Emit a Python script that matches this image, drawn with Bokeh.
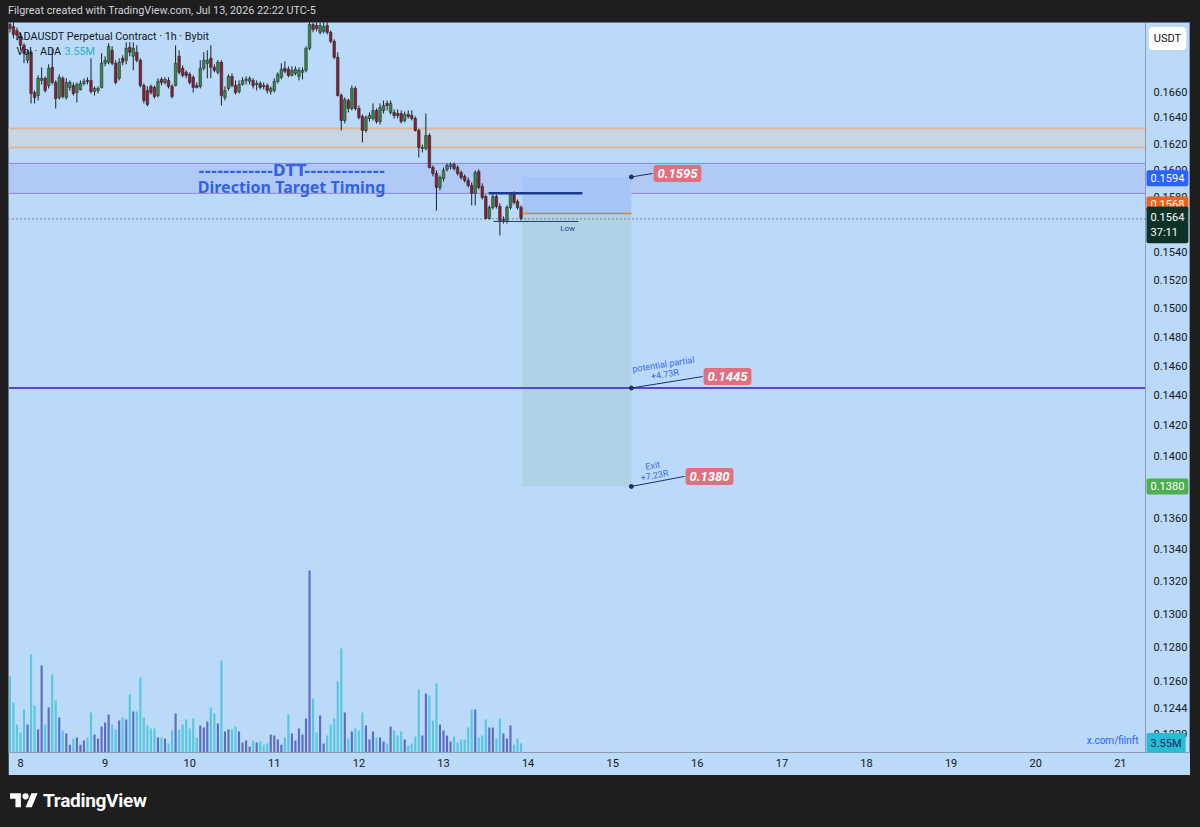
from bokeh.plotting import figure
from bokeh.models import (Range1d, LinearScale, FixedTicker, PrintfTickFormatter, Label, Div,
                          BoxAnnotation, Span, ColumnDataSource)
from bokeh.layouts import column
from bokeh.embed import file_html
from bokeh.resources import INLINE

# ---------------- data ----------------
# hours since Jul 8 00:00 (1h candles, ADAUSDT Bybit)
hours = list(range(-3, 143))

opens = [0.17129, 0.17113, 0.17081, 0.17034, 0.16963, 0.16845, 0.16908, 0.16592, 0.16569, 0.16687,
         0.16703, 0.16647, 0.16789, 0.16671, 0.16554, 0.16703, 0.16554, 0.16632, 0.16647, 0.16592,
         0.16616, 0.16663, 0.16687, 0.16687, 0.16600, 0.16608, 0.16632, 0.16821, 0.16829, 0.16924,
         0.16821, 0.16703, 0.16860, 0.16845, 0.16947, 0.16876, 0.16908, 0.16845, 0.16647, 0.16608,
         0.16640, 0.16632, 0.16569, 0.16695, 0.16671, 0.16687, 0.16640, 0.16647, 0.16876, 0.16782,
         0.16750, 0.16734, 0.16711, 0.16647, 0.16640, 0.16782, 0.16821, 0.16860, 0.16789, 0.16750,
         0.16829, 0.16554, 0.16624, 0.16718, 0.16647, 0.16600, 0.16655, 0.16687, 0.16679, 0.16687,
         0.16655, 0.16663, 0.16647, 0.16647, 0.16600, 0.16608, 0.16679, 0.16711, 0.16782, 0.16774,
         0.16726, 0.16742, 0.16718, 0.16750, 0.16766, 0.16939, 0.17129, 0.17121, 0.17066, 0.17074,
         0.17121, 0.17066, 0.16995, 0.16868, 0.16569, 0.16377, 0.16531, 0.16469, 0.16624, 0.16469,
         0.16408, 0.16300, 0.16392, 0.16392, 0.16454, 0.16369, 0.16454, 0.16508, 0.16439, 0.16439,
         0.16431, 0.16431, 0.16377, 0.16423, 0.16415, 0.16392, 0.16300, 0.16164, 0.16164, 0.16262,
         0.16021, 0.15976, 0.15872, 0.15939, 0.16006, 0.16028, 0.16043, 0.16021, 0.15983, 0.15954,
         0.15924, 0.15887, 0.15828, 0.15991, 0.15879, 0.15805, 0.15643, 0.15724, 0.15805, 0.15731,
         0.15628, 0.15621, 0.15724, 0.15820, 0.15768, 0.15724]

highs = [0.17170, 0.17160, 0.17105, 0.17058, 0.16979, 0.16924, 0.16924, 0.16608, 0.16726, 0.16789,
         0.16718, 0.16813, 0.16939, 0.16687, 0.16734, 0.16718, 0.16703, 0.16687, 0.16671, 0.16671,
         0.16687, 0.16703, 0.16711, 0.16860, 0.16640, 0.16640, 0.16900, 0.16876, 0.16979, 0.16955,
         0.16845, 0.16860, 0.16884, 0.16987, 0.16987, 0.16987, 0.16963, 0.16860, 0.16663, 0.16640,
         0.16655, 0.16647, 0.16703, 0.16711, 0.16711, 0.16711, 0.16655, 0.16963, 0.16924, 0.16805,
         0.16766, 0.16750, 0.16726, 0.16671, 0.16845, 0.16908, 0.16924, 0.16963, 0.16813, 0.16845,
         0.16845, 0.16640, 0.16734, 0.16742, 0.16687, 0.16687, 0.16711, 0.16718, 0.16718, 0.16703,
         0.16687, 0.16679, 0.16671, 0.16663, 0.16640, 0.16703, 0.16750, 0.16821, 0.16837, 0.16797,
         0.16797, 0.16797, 0.16789, 0.16789, 0.16955, 0.17180, 0.17210, 0.17190, 0.17170, 0.17200,
         0.17160, 0.17081, 0.17010, 0.16908, 0.16585, 0.16554, 0.16546, 0.16647, 0.16640, 0.16492,
         0.16423, 0.16415, 0.16439, 0.16508, 0.16469, 0.16508, 0.16531, 0.16531, 0.16531, 0.16462,
         0.16462, 0.16454, 0.16446, 0.16454, 0.16454, 0.16408, 0.16315, 0.16194, 0.16431, 0.16277,
         0.16036, 0.15998, 0.15961, 0.16021, 0.16051, 0.16058, 0.16058, 0.16036, 0.15998, 0.15968,
         0.15946, 0.15909, 0.15998, 0.16006, 0.15902, 0.15820, 0.15739, 0.15820, 0.15820, 0.15754,
         0.15658, 0.15739, 0.15835, 0.15842, 0.15783, 0.15739]

lows = [0.17066, 0.17018, 0.17003, 0.16924, 0.16821, 0.16821, 0.16508, 0.16508, 0.16531, 0.16655,
        0.16592, 0.16624, 0.16655, 0.16469, 0.16538, 0.16546, 0.16538, 0.16608, 0.16569, 0.16515,
        0.16608, 0.16647, 0.16655, 0.16585, 0.16569, 0.16585, 0.16624, 0.16797, 0.16813, 0.16805,
        0.16655, 0.16687, 0.16805, 0.16813, 0.16876, 0.16766, 0.16829, 0.16632, 0.16508, 0.16485,
        0.16577, 0.16546, 0.16554, 0.16647, 0.16655, 0.16624, 0.16546, 0.16640, 0.16734, 0.16711,
        0.16703, 0.16655, 0.16592, 0.16624, 0.16624, 0.16766, 0.16703, 0.16703, 0.16750, 0.16734,
        0.16492, 0.16531, 0.16608, 0.16632, 0.16577, 0.16585, 0.16647, 0.16655, 0.16655, 0.16624,
        0.16608, 0.16616, 0.16616, 0.16585, 0.16577, 0.16592, 0.16663, 0.16695, 0.16742, 0.16711,
        0.16718, 0.16726, 0.16687, 0.16695, 0.16750, 0.16924, 0.17066, 0.17074, 0.17050, 0.17058,
        0.17050, 0.16979, 0.16853, 0.16562, 0.16300, 0.16354, 0.16439, 0.16454, 0.16454, 0.16385,
        0.16209, 0.16285, 0.16369, 0.16377, 0.16354, 0.16346, 0.16431, 0.16454, 0.16423, 0.16392,
        0.16392, 0.16354, 0.16362, 0.16392, 0.16377, 0.16292, 0.16096, 0.16134, 0.16149, 0.16013,
        0.15954, 0.15701, 0.15850, 0.15916, 0.15991, 0.16006, 0.15998, 0.15961, 0.15931, 0.15909,
        0.15872, 0.15739, 0.15739, 0.15857, 0.15783, 0.15636, 0.15636, 0.15709, 0.15716, 0.15519,
        0.15606, 0.15606, 0.15709, 0.15746, 0.15709, 0.15628]

closes = [0.17097, 0.17050, 0.17042, 0.16963, 0.16900, 0.16908, 0.16585, 0.16554, 0.16703, 0.16703,
          0.16608, 0.16782, 0.16671, 0.16546, 0.16711, 0.16562, 0.16671, 0.16671, 0.16585, 0.16655,
          0.16663, 0.16679, 0.16679, 0.16600, 0.16624, 0.16624, 0.16821, 0.16845, 0.16955, 0.16821,
          0.16671, 0.16829, 0.16829, 0.16939, 0.16908, 0.16939, 0.16845, 0.16647, 0.16531, 0.16500,
          0.16592, 0.16562, 0.16679, 0.16671, 0.16695, 0.16640, 0.16562, 0.16821, 0.16750, 0.16726,
          0.16726, 0.16671, 0.16632, 0.16632, 0.16782, 0.16845, 0.16845, 0.16789, 0.16766, 0.16829,
          0.16569, 0.16608, 0.16718, 0.16647, 0.16592, 0.16655, 0.16687, 0.16695, 0.16703, 0.16647,
          0.16663, 0.16632, 0.16640, 0.16608, 0.16624, 0.16679, 0.16734, 0.16774, 0.16758, 0.16726,
          0.16766, 0.16774, 0.16766, 0.16766, 0.16939, 0.17129, 0.17089, 0.17097, 0.17121, 0.17113,
          0.17066, 0.16995, 0.16868, 0.16569, 0.16377, 0.16538, 0.16469, 0.16624, 0.16469, 0.16400,
          0.16300, 0.16400, 0.16415, 0.16454, 0.16369, 0.16477, 0.16492, 0.16492, 0.16508, 0.16415,
          0.16415, 0.16369, 0.16423, 0.16408, 0.16392, 0.16300, 0.16172, 0.16172, 0.16262, 0.16021,
          0.15976, 0.15872, 0.15946, 0.15998, 0.16036, 0.16043, 0.16013, 0.15976, 0.15946, 0.15924,
          0.15887, 0.15828, 0.15983, 0.15872, 0.15798, 0.15643, 0.15724, 0.15805, 0.15731, 0.15628,
          0.15636, 0.15724, 0.15820, 0.15761, 0.15724, 0.15643]

# volume, millions ADA
volumes = [29.9, 19.7, 11.0, 7.9, 16.9, 11.0, 38.6, 18.5, 9.1, 34.3,
           11.0, 17.7, 30.7, 20.5, 13.8, 8.7, 7.5, 3.1, 5.5, 5.9,
           3.1, 4.7, 5.9, 15.7, 7.1, 5.5, 10.2, 11.8, 15.0, 11.0,
           9.1, 12.6, 13.8, 13.0, 22.8, 16.1, 16.1, 29.5, 13.8, 10.6,
           9.4, 9.4, 5.9, 5.9, 5.5, 3.5, 8.7, 15.4, 9.1, 11.0,
           13.0, 9.4, 13.4, 5.9, 10.6, 9.8, 12.2, 17.7, 15.4, 11.4,
           36.2, 8.3, 9.1, 9.1, 10.2, 8.3, 3.9, 4.7, 2.4, 4.7,
           3.9, 4.3, 3.1, 3.5, 7.1, 6.7, 5.1, 3.1, 5.9, 15.0,
           7.5, 4.7, 9.4, 7.1, 13.4, 71.7, 21.3, 7.9, 14.6, 3.5,
           6.7, 11.0, 13.4, 28.0, 40.9, 15.7, 5.5, 8.3, 9.4, 8.7,
           15.7, 10.6, 5.1, 8.3, 5.9, 5.9, 4.3, 3.5, 10.2, 8.7,
           6.7, 8.3, 5.1, 2.8, 3.5, 6.3, 24.8, 6.7, 23.2, 22.4,
           12.6, 27.2, 11.0, 8.7, 6.7, 4.3, 6.3, 3.9, 5.1, 5.1,
           9.8, 16.9, 16.9, 5.9, 6.7, 13.0, 9.8, 9.8, 5.5, 13.4,
           7.5, 5.5, 10.6, 3.1, 5.5, 3.55]

day_ticks = [0, 24, 48, 72, 96, 120, 144, 168, 192, 216, 240, 264, 288, 312]
day_labels = ["8", "9", "10", "11", "12", "13", "14", "15", "16", "17", "18", "19", "20", "21"]
price_ticks = [0.1229, 0.1244, 0.1260, 0.1280, 0.1300, 0.1320, 0.1340, 0.1360, 0.1380, 0.1400,
               0.1420, 0.1440, 0.1460, 0.1480, 0.1500, 0.1520, 0.1540, 0.1560, 0.1580, 0.1600,
               0.1620, 0.1640, 0.1660]

# drawings (time in hours, price)
zone_grey = [0.16172, 0.16315]          # grey zone with tan borders
zone_dtt = [0.15828, 0.16051]           # DTT band
last_price = 0.1564
pos_time = [142.4, 173.3]               # short position tool
pos_entry, pos_stop = 0.1568, 0.1595
tp_partial, tp_exit = 0.1445, 0.1380
level_line = [132.8, 159.4, 0.15828]    # navy level
low_line = [134.2, 158.3, 0.15621]      # "Low"
low_text = [155.2, 0.15570]
tag_names = ["0.1595", "0.1445", "0.1380"]
tag_prices = [pos_stop, tp_partial, tp_exit]
tag_anchor_t = [179.3, 193.5, 188.4]
tag_anchor_p = [0.15976, 0.14528, 0.13865]
note_texts = ["potential partial\n+4.73R", "Exit\n+7.23R"]
note_t = [182.6, 179.6]
note_p = [0.14576, 0.13903]
note_angle = [0.155, 0.187]
dtt_t = 76.9
dtt_p = [0.15991, 0.15872]

# ---------------- style / view ----------------
BG = "#bbd9f9"
DARK = "#1e1e1e"
UP, DOWN, WICK = "#3a8649", "#872031", "#1d2127"
VUP, VDOWN = "#5b6cc2", "#55c8e0"
FONT = "Roboto"
T0, SCALE_EDGE, T1 = -3.40, 319.15, 331.91     # view: left edge, price-scale border, right edge

p = figure(frame_width=1182, frame_height=730, x_range=Range1d(T0, T1), y_range=Range1d(0.12185, 0.17145),
           y_axis_type="log", y_axis_location="right", output_backend="svg", toolbar_location=None,
           min_border_left=0, min_border_right=0, min_border_top=0, min_border_bottom=23,
           background_fill_color=BG, border_fill_color=BG, outline_line_color="#6f7886",
           outline_line_alpha=0.7)
p.margin = (0, 0, 0, 8)
p.grid.visible = False
p.extra_y_ranges = {"vol": Range1d(0, 287.4)}
p.extra_y_scales = {"vol": LinearScale()}

ya = p.yaxis[0]
ya.ticker = FixedTicker(ticks=price_ticks)
ya.formatter = PrintfTickFormatter(format="%.4f")
xa = p.xaxis[0]
xa.ticker = FixedTicker(ticks=day_ticks)
xa.major_label_overrides = {t: l for t, l in zip(day_ticks, day_labels)}
for ax in (ya, xa):
    ax.major_tick_line_color = None
    ax.minor_tick_line_color = None
    ax.major_tick_out = 0
    ax.major_tick_in = 0
    ax.minor_tick_out = 0
    ax.major_label_text_font = FONT
    ax.major_label_text_font_size = "11px"
    ax.major_label_text_color = "#131722"
ya.axis_line_color = None
xa.axis_line_color = "#8e9bb0"
ya.major_label_standoff = -37          # labels sit inside the price-scale column
xa.major_label_standoff = 6

# price-scale separator
p.add_layout(Span(location=SCALE_EDGE, dimension="height", line_color="#8e9bb0", line_width=1))

# zones
p.add_layout(BoxAnnotation(bottom=zone_grey[0], top=zone_grey[1], right=SCALE_EDGE, fill_color="#c8d5e2",
                           fill_alpha=1, line_color=None, level="underlay"))
p.add_layout(BoxAnnotation(bottom=zone_dtt[0], top=zone_dtt[1], right=SCALE_EDGE, fill_color="#a9bdf2",
                           fill_alpha=0.55, line_color=None, level="underlay"))
p.segment(x0=[T0] * 2, y0=zone_grey, x1=[SCALE_EDGE] * 2, y1=zone_grey, line_color="#d8b99c", line_width=2)
p.segment(x0=[T0] * 2, y0=zone_dtt, x1=[SCALE_EDGE] * 2, y1=zone_dtt, line_color="#8f84dc", line_width=1)

# position tool
p.quad(left=[pos_time[0]], right=[pos_time[1]], bottom=[pos_entry], top=[pos_stop],
       fill_color="#a5c5f7", line_color=None)
p.quad(left=[pos_time[0]], right=[pos_time[1]], bottom=[tp_exit], top=[pos_entry],
       fill_color="#b0d2e6", line_color=None)

p.segment(x0=[T0], y0=[tp_partial], x1=[SCALE_EDGE], y1=[tp_partial], line_color="#5a46cf", line_width=2)
p.segment(x0=[T0], y0=[last_price], x1=[SCALE_EDGE], y1=[last_price], line_color="#2a2e39",
          line_width=1, line_dash="1 3")

# volume + candles
src = ColumnDataSource(dict(
    t=hours, o=opens, h=highs, l=lows, c=closes, v=volumes,
    top=[max(a, b) for a, b in zip(opens, closes)],
    bot=[min(a, b) for a, b in zip(opens, closes)],
    col=[UP if c >= o else DOWN for o, c in zip(opens, closes)],
    vcol=[VUP if c >= o else VDOWN for o, c in zip(opens, closes)],
))
p.vbar(x="t", top="v", bottom=0, width=0.6, fill_color="vcol", line_color=None,
       y_range_name="vol", source=src)
p.segment(x0="t", y0="l", x1="t", y1="h", line_color=WICK, line_width=1, source=src)
p.vbar(x="t", top="top", bottom="bot", width=0.74, fill_color="col", line_color=WICK,
       line_width=0.5, source=src)

# position lines
p.segment(x0=[pos_time[0]], y0=[pos_entry], x1=[pos_time[1]], y1=[pos_entry],
          line_color="#f07a1e", line_width=1.5)
p.segment(x0=[level_line[0]], y0=[level_line[2]], x1=[level_line[1]], y1=[level_line[2]],
          line_color="#1c3a86", line_width=2.5)
p.segment(x0=[low_line[0]], y0=[low_line[2]], x1=[low_line[1]], y1=[low_line[2]],
          line_color="#2b3f6c", line_width=1)
p.add_layout(Label(x=low_text[0], y=low_text[1], text="Low", text_align="center",
                   text_baseline="middle", text_font=FONT, text_font_size="8px", text_color="#2d4d8c"))

# leaders, dots and price tags of the position
p.segment(x0=[pos_time[1]] * 3, y0=tag_prices, x1=tag_anchor_t, y1=tag_anchor_p,
          line_color="#1c2f6b", line_width=1)
p.scatter(x=[pos_time[1]] * 3, y=tag_prices, size=4, color="#1c2f6b")
for name, tt, pp in zip(tag_names, tag_anchor_t, tag_anchor_p):
    p.add_layout(Label(x=tt, y=pp, x_offset=1, text=name, text_align="left", text_baseline="middle",
                       text_color="white", text_font=FONT, text_font_style="bold italic",
                       text_font_size="13px", background_fill_color="#e0707f", padding=4,
                       border_radius=3))
for txt, tt, pp, ang in zip(note_texts, note_t, note_p, note_angle):
    p.add_layout(Label(x=tt, y=pp, text=txt, angle=ang, text_align="center", text_baseline="middle",
                       text_font=FONT, text_font_size="9px", text_color="#3b6ee6",
                       text_line_height=1.0))

# DTT text
p.add_layout(Label(x=dtt_t, y=dtt_p[0], text="------------DTT-------------", text_align="center",
                   text_baseline="middle", text_font="DejaVu Sans", text_font_style="bold",
                   text_font_size="15px", text_color="#3163e4"))
p.add_layout(Label(x=dtt_t, y=dtt_p[1], text="Direction Target Timing", text_align="center",
                   text_baseline="middle", text_font="Noto Sans", text_font_style="bold",
                   text_font_size="16px", text_color="#3163e4"))

# legend texts
p.add_layout(Label(x=8, y=716, x_units="screen", y_units="screen",
                   text="ADAUSDT Perpetual Contract · 1h · Bybit", text_baseline="middle",
                   text_font=FONT, text_font_size="10.8px", text_color="#131722"))
p.add_layout(Label(x=8, y=701, x_units="screen", y_units="screen", text="Vol · ADA",
                   text_baseline="middle", text_font=FONT, text_font_size="10.8px", text_color="#131722"))
p.add_layout(Label(x=56, y=701, x_units="screen", y_units="screen", text="3.55M",
                   text_baseline="middle", text_font=FONT, text_font_size="10.8px", text_color="#22b4cc"))
p.add_layout(Label(x=1130, y=12, x_units="screen", y_units="screen", text="x.com/filnft",
                   text_align="right", text_baseline="middle", text_font=FONT, text_font_size="10px",
                   text_color="#2962ff"))

# price-scale tags
def tag(y, text, bg, fg, y_offset=0, rng="default"):
    p.add_layout(Label(x=SCALE_EDGE, y=y, x_offset=1, y_offset=y_offset, text=text, text_align="left",
                       text_baseline="middle", text_font=FONT, text_font_size="11px",
                       text_color=fg, background_fill_color=bg, padding=4, border_radius=2,
                       y_range_name=rng))

tag(0.1594, "0.1594", "#2962ff", "white")
tag(pos_entry, "0.1568", "#ec6418", "white", y_offset=9)
tag(last_price, "0.1564\n37:11", "#0d3327", "white", y_offset=-6)
tag(tp_exit, "0.1380", "#4caf50", "white")
tag(volumes[-1], "3.55M", "#26bcd4", "#0c2a5a", rng="vol")
p.add_layout(Label(x=SCALE_EDGE, y=714, x_offset=22, y_units="screen", text="USDT", text_align="center",
                   text_baseline="middle", text_font=FONT, text_font_size="11px",
                   text_color="#131722", background_fill_color="white", padding=5, border_radius=4))

header = Div(text='<div style="font-family:Roboto;font-size:10.8px;color:#d1d4dc;line-height:22px;'
                  'padding-left:8px;white-space:nowrap">'
                  'Filgreat created with TradingView.com, Jul 13, 2026 22:22 UTC-5</div>',
             width=1200, height=22, margin=0, styles={"background-color": DARK})
footer = Div(text='<div style="display:flex;align-items:center;height:52px;padding-left:10px;">'
                  '<svg width="28" height="22" viewBox="0 0 36 28"><path d="M14 22H7V11H0V4h14v18z" '
                  'fill="#ffffff"/><circle cx="20" cy="8" r="4" fill="#ffffff"/>'
                  '<path d="M28 22h-8l7.5-18h8L28 22z" fill="#ffffff"/></svg>'
                  '<span style="font-family:Roboto;font-weight:700;font-size:19px;color:#ffffff;'
                  'margin-left:5px;letter-spacing:-0.3px">TradingView</span></div>',
             width=1200, height=52, margin=0, styles={"background-color": DARK})

page = column(header, p, footer, spacing=0, styles={"background-color": DARK})
open("out.html", "w").write(file_html(page, INLINE))
